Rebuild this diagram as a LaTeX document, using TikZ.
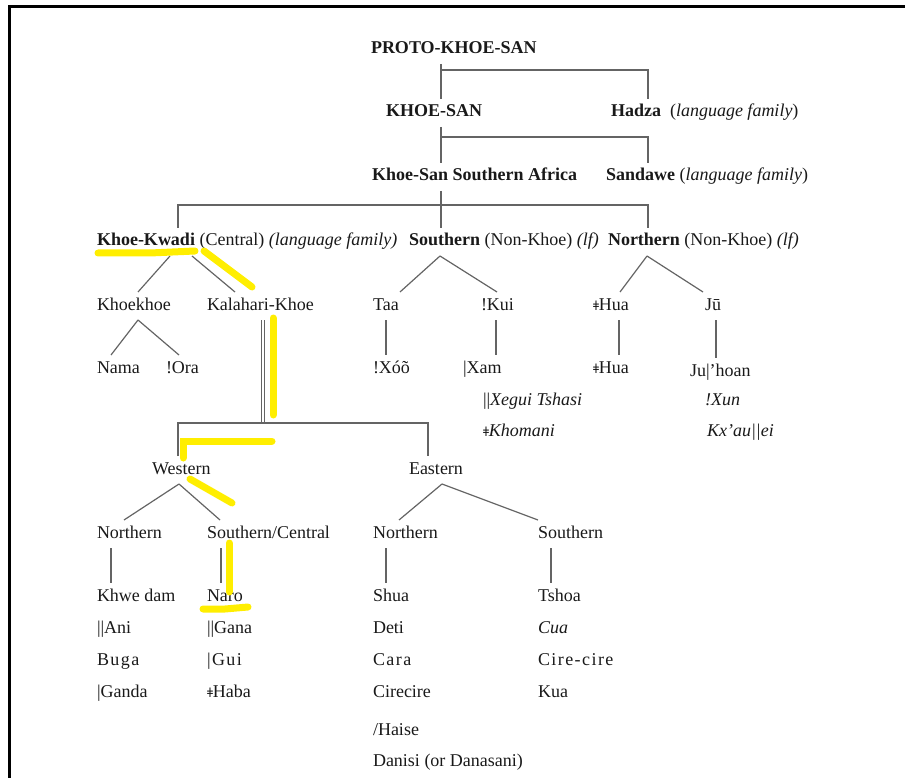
\documentclass[tikz,border=0pt]{standalone}
\usepackage{fontspec}
\setmainfont{Liberation Serif}
\newfontfamily\clickfont{DejaVu Serif}
\usepackage{tikz}
\usetikzlibrary{positioning}
\definecolor{txt}{RGB}{25,25,25}
\definecolor{wire}{RGB}{100,100,100}
\definecolor{marker}{RGB}{255,238,0}
\tikzstyle{lang}=[anchor=west, inner sep=0pt, outer xsep=0pt, outer ysep=6pt, yshift=-2pt, text height=12pt, text depth=4pt, text=txt, font=\fontsize{18}{21}\selectfont]
\tikzstyle{branch}=[draw=wire, line width=1.2pt]
\tikzstyle{hilite}=[draw=marker, line width=7pt, line cap=round]
\newcommand{\dz}{{\clickfont\fontsize{13}{15}\selectfont ǂ}}
\newcommand{\spaced}[1]{{\addfontfeatures{LetterSpace=8}#1}}

\begin{document}
\begin{tikzpicture}[x=1pt, y=-1pt]
            \useasboundingbox (0,0) rectangle (905,778);
            %Frame of the scan
            \draw[line width=3pt] (9.5,778) -- (9.5,6.5) -- (905,6.5);

            %Top of the tree
            \node[lang] (proto) at (371,48) {\textbf{PROTO-KHOE-SAN}};
            \node[lang] (khoesan) at (386,111) {\textbf{KHOE-SAN}};
            \node[lang] (hadza) at (611,111) {\textbf{Hadza}~~(\textit{language family})};
            \node[lang] (ksa) at (372,175) {\textbf{Khoe-San Southern Africa}};
            \node[lang] (sandawe) at (606,175) {\textbf{Sandawe} (\textit{language family})};
            \coordinate (j1) at (441,70);
            \coordinate (j2) at (441,137);
            \coordinate (j3) at (441,205);
            \draw[branch] ([xshift=70pt]proto.south west) -- ([xshift=55pt]khoesan.north west);
            \draw[branch] ([xshift=37pt]hadza.north west) |- (j1);
            \draw[branch] ([xshift=55pt]khoesan.south west) -- ([xshift=69pt]ksa.north west);
            \draw[branch] ([xshift=42pt]sandawe.north west) |- (j2);

            %The three families
            \node[lang] (kkwadi) at (97,240) {\textbf{Khoe-Kwadi} (Central) \textit{(language family)}};
            \node[lang] (southnk) at (409,240) {\textbf{Southern} (Non-Khoe) \textit{(lf)}};
            \node[lang] (northnk) at (608,240) {\textbf{Northern} (Non-Khoe) \textit{(lf)}};
            \draw[branch] ([xshift=69pt]ksa.south west) -- ([xshift=32pt]southnk.north west);
            \draw[branch] ([xshift=81pt]kkwadi.north west) |- (j3) -| ([xshift=40pt]northnk.north west);

            %Khoe-Kwadi
            \node[lang] (khoekhoe) at (97,304) {Khoekhoe};
            \node[lang] (kalahari) at (207,304) {Kalahari-Khoe};
            \node[lang] (nama) at (97,367) {Nama};
            \node[lang] (ora) at (166,367) {!Ora};
            \draw[branch] ([xshift=73pt]kkwadi.south west) -- ([xshift=41pt]khoekhoe.north west);
            \draw[branch] ([xshift=95pt]kkwadi.south west) -- ([xshift=28pt]kalahari.north west);
            \draw[branch] ([xshift=41pt]khoekhoe.south west) -- ([xshift=14pt]nama.north west);
            \draw[branch] ([xshift=41pt]khoekhoe.south west) -- ([xshift=13pt]ora.north west);

            %Southern (Non-Khoe)
            \node[lang] (taa) at (373,304) {Taa};
            \node[lang] (kui) at (481,304) {!Kui};
            \node[lang] (xoo) at (373,367) {!Xóõ};
            \node[lang] (xam) at (463,367) {|Xam};
            \node[lang] (xegui) at (483,399) {||\textit{Xegui Tshasi}};
            \node[lang] (khomani) at (483,430) {\dz\textit{Khomani}};
            \draw[branch] ([xshift=31pt]southnk.south west) -- ([xshift=27pt]taa.north west);
            \draw[branch] ([xshift=31pt]southnk.south west) -- ([xshift=16pt]kui.north west);
            \draw[branch] ([xshift=13pt]taa.south west) -- ([xshift=13pt]xoo.north west);
            \draw[branch] ([xshift=15pt]kui.south west) -- ([xshift=33pt]xam.north west);

            %Northern (Non-Khoe)
            \node[lang] (hua) at (593,304) {\dz Hua};
            \node[lang] (ju) at (705,304) {Jū};
            \node[lang] (hua2) at (593,367) {\dz Hua};
            \node[lang] (juhoan) at (690,370) {Ju|’hoan};
            \node[lang] (xun) at (705,399) {\textit{!Xun}};
            \node[lang] (kxau) at (707,430) {\textit{Kx’au||ei}};
            \draw[branch] ([xshift=39pt]northnk.south west) -- ([xshift=27pt]hua.north west);
            \draw[branch] ([xshift=39pt]northnk.south west) -- ([xshift=-2pt]ju.north west);
            \draw[branch] ([xshift=26pt]hua.south west) -- ([xshift=26pt]hua2.north west);
            \draw[branch] ([xshift=11pt]ju.south west) -- ([xshift=26pt]juhoan.north west);

            %Kalahari-Khoe
            \node[lang] (western) at (152,468) {Western};
            \node[lang] (eastern) at (409,468) {Eastern};
            \coordinate (j4) at (263,423);
            \draw[branch, double=white, double distance=2.6pt, line width=1pt] ([xshift=56pt]kalahari.south west) -- (j4);
            \draw[branch] ([xshift=26pt]western.north west) |- (j4) -| ([xshift=19pt]eastern.north west);

            \node[lang] (wnorth) at (97,532) {Northern};
            \node[lang] (wsouth) at (207,532) {Southern/Central};
            \node[lang] (enorth) at (373,532) {Northern};
            \node[lang] (esouth) at (538,532) {Southern};
            \draw[branch] ([xshift=27pt]western.south west) -- ([xshift=27pt]wnorth.north west);
            \draw[branch] ([xshift=27pt]western.south west) -- ([xshift=13pt]wsouth.north west);
            \draw[branch] ([xshift=33pt]eastern.south west) -- ([xshift=26pt]enorth.north west);
            \draw[branch] ([xshift=33pt]eastern.south west) -- ([xshift=0pt]esouth.north west);

            %Language lists
            \foreach \t [count=\n] in {Khwe dam, ||Ani, \spaced{Buga}, |Ganda}{
                \pgfmathsetmacro\ypos{563+32*\n}
                \node[lang] (wn\n) at (97,\ypos) {\t};
            }
            \foreach \t [count=\n] in {Naro, ||Gana, \spaced{|Gui}, \dz Haba}{
                \pgfmathsetmacro\ypos{563+32*\n}
                \node[lang] (ws\n) at (207,\ypos) {\t};
            }
            \foreach \t [count=\n] in {Shua, Deti, \spaced{Cara}, Cirecire}{
                \pgfmathsetmacro\ypos{563+32*\n}
                \node[lang] (en\n) at (373,\ypos) {\t};
            }
            \node[lang] (en5) at (373,729) {/Haise};
            \node[lang] (en6) at (373,760) {Danisi (or Danasani)};
            \foreach \t [count=\n] in {Tshoa, \textit{Cua}, \spaced{Cire-cire}, Kua}{
                \pgfmathsetmacro\ypos{563+32*\n}
                \node[lang] (es\n) at (538,\ypos) {\t};
            }
            \draw[branch] ([xshift=14pt]wnorth.south west) -- ([xshift=14pt]wn1.north west);
            \draw[branch] ([xshift=14pt]wsouth.south west) -- ([xshift=14pt]ws1.north west);
            \draw[branch] ([xshift=13pt]enorth.south west) -- ([xshift=13pt]en1.north west);
            \draw[branch] ([xshift=13pt]esouth.south west) -- ([xshift=13pt]es1.north west);

            %Yellow marker strokes
            \draw[hilite] (98,253) -- (150,253) -- (195,251);
            \draw[hilite] (204,251) -- (252,287);
            \draw[hilite] (273,318) -- (273,415);
            \draw[hilite] (183,458) -- (183,441) -- (272,441);
            \draw[hilite] (190,479) -- (232,503);
            \draw[hilite] (229,543) -- (229,592);
            \draw[hilite] (203,609) -- (225,609) -- (248,607);
        \end{tikzpicture}
\end{document}
